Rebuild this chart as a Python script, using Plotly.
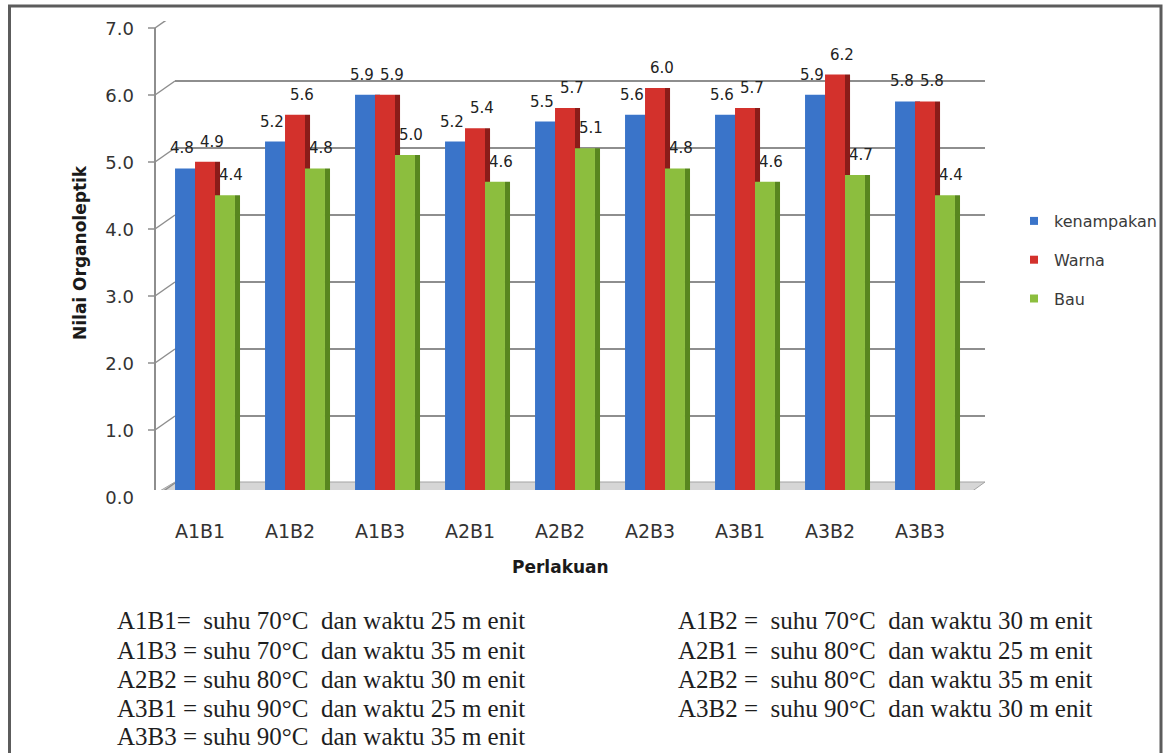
import plotly.graph_objects as go

# ---- data ----
categories = ["A1B1", "A1B2", "A1B3", "A2B1", "A2B2", "A2B3", "A3B1", "A3B2", "A3B3"]
kenampakan = [4.8, 5.2, 5.9, 5.2, 5.5, 5.6, 5.6, 5.9, 5.8]
warna = [4.9, 5.6, 5.9, 5.4, 5.7, 6.0, 5.7, 6.2, 5.8]
bau = [4.4, 4.8, 5.0, 4.6, 5.1, 4.8, 4.6, 4.7, 4.4]
series_names = ["kenampakan", "Warna", "Bau"]
y_ticks = [0, 1, 2, 3, 4, 5, 6, 7]

keterangan_kiri = [
    "A1B1=  suhu 70°C  dan waktu 25 m enit",
    "A1B3 = suhu 70°C  dan waktu 35 m enit",
    "A2B2 = suhu 80°C  dan waktu 30 m enit",
    "A3B1 = suhu 90°C  dan waktu 25 m enit",
    "A3B3 = suhu 90°C  dan waktu 35 m enit",
]
keterangan_kanan = [
    "A1B2 =  suhu 70°C  dan waktu 30 m enit",
    "A2B1 =  suhu 80°C  dan waktu 25 m enit",
    "A2B2 =  suhu 80°C  dan waktu 35 m enit",
    "A3B2 =  suhu 90°C  dan waktu 30 m enit",
]

# ---- page geometry (pixels) ----
W, H = 1166, 753
L, RX = 161, 971          # plot area left/right
T, BY = 21, 490           # plot area top/bottom
PW, PH = RX - L, BY - T


def px_x(px):
    return (px - L) / PW


def px_y(py):
    return (BY - py) / PH


front_cols = ["#3a74c9", "#d3312c", "#8cbe3e"]
side_cols = ["#23508f", "#8a1c19", "#58861f"]
face_w, side_w = 0.222, 0.056
offsets = [-0.344, -0.122, 0.100]
label_dx = [-3, 7, 6]
values = [kenampakan, warna, bau]

fig = go.Figure()

# 3D-looking columns: dark side strip, then the front face
for i, (name, vals) in enumerate(zip(series_names, values)):
    fig.add_trace(go.Bar(
        x=categories, y=vals, offset=offsets[i] + face_w, width=side_w,
        marker=dict(color=side_cols[i], line=dict(width=0)),
        showlegend=False, hoverinfo="skip"))
    fig.add_trace(go.Bar(
        x=categories, y=vals, offset=offsets[i], width=face_w,
        marker=dict(color=front_cols[i], line=dict(width=0)),
        name=name, showlegend=False))

# legend entries with small square swatches
for i, name in enumerate(series_names):
    fig.add_trace(go.Scatter(
        x=[None], y=[None], mode="markers", name=name, legendgroup=name,
        marker=dict(symbol="square", size=8, color=front_cols[i])))

# value labels
annotations = []
for i, vals in enumerate(values):
    center_px = (offsets[i] + face_w / 2) * PW / len(categories)
    for cat, v in zip(categories, vals):
        annotations.append(dict(
            x=cat, y=v, xref="x", yref="y", text=f"{v:.1f}", showarrow=False,
            yanchor="middle", yshift=20, xshift=center_px + label_dx[i],
            font=dict(family="DejaVu Sans", size=15, color="#222222")))

# axis titles
annotations.append(dict(
    x=px_x(80), y=px_y(253), xref="paper", yref="paper", text="<b>Nilai Organoleptik</b>",
    textangle=-90, showarrow=False, xanchor="center", yanchor="middle",
    font=dict(family="DejaVu Sans", size=17, color="#1a1a1a")))
annotations.append(dict(
    x=px_x(560), y=px_y(567), xref="paper", yref="paper", text="<b>Perlakuan</b>",
    showarrow=False, xanchor="center", yanchor="middle",
    font=dict(family="DejaVu Sans", size=17, color="#1a1a1a")))

# treatment key below the chart
row_y = [620, 650, 679, 708, 737]
for txt, ry in zip(keterangan_kiri, row_y):
    annotations.append(dict(
        x=px_x(115), y=px_y(ry), xref="paper", yref="paper", text=txt,
        showarrow=False, xanchor="left", yanchor="middle",
        font=dict(family="Liberation Serif", size=25, color="#1e1e1e")))
for txt, ry in zip(keterangan_kanan, row_y):
    annotations.append(dict(
        x=px_x(676), y=px_y(ry), xref="paper", yref="paper", text=txt,
        showarrow=False, xanchor="left", yanchor="middle",
        font=dict(family="Liberation Serif", size=25, color="#1e1e1e")))

# walls, floor and gridlines of the pseudo-3D frame (pixel offsets from the plot origin)
shapes = []
grid_col = "#8e8e8e"
shapes.append(dict(
    type="path", xref="paper", yref="y", xsizemode="pixel", ysizemode="pixel",
    xanchor=0, yanchor=0, path=f"M -8,-5 L {PW - 4},-5 L {PW + 14},8 L 14,8 Z",
    fillcolor="#d6d6d6", line=dict(color="#a3a3a3", width=1), layer="below"))
for v in y_ticks:
    if v > 0:
        shapes.append(dict(
            type="line", xref="paper", yref="y", xsizemode="pixel", ysizemode="pixel",
            xanchor=0, yanchor=v, x0=14, x1=PW + 14, y0=7, y1=7,
            line=dict(color=grid_col, width=2), layer="below"))
    shapes.append(dict(
        type="line", xref="paper", yref="y", xsizemode="pixel", ysizemode="pixel",
        xanchor=0, yanchor=v, x0=-6, x1=14, y0=-7, y1=7,
        line=dict(color=grid_col, width=1.5), layer="below"))
    shapes.append(dict(
        type="line", xref="paper", yref="y", xsizemode="pixel", ysizemode="pixel",
        xanchor=0, yanchor=v, x0=-13, x1=-6, y0=-7, y1=-7,
        line=dict(color=grid_col, width=1.5), layer="below"))
# vertical axis line
shapes.append(dict(
    type="line", xref="paper", yref="y", xsizemode="pixel", ysizemode="pixel",
    xanchor=0, yanchor=0, x0=-6, x1=-6, y0=-7, y1=PH - 7,
    line=dict(color=grid_col, width=2), layer="below"))
# outer frame
shapes.append(dict(
    type="rect", xref="paper", yref="paper",
    x0=px_x(9.5), x1=px_x(1161), y0=px_y(6), y1=px_y(770),
    line=dict(color="#5c5c5c", width=3), fillcolor="rgba(0,0,0,0)", layer="above"))

fig.update_layout(
    width=W, height=H,
    margin=dict(l=L, r=W - RX, t=T, b=H - BY, autoexpand=False),
    paper_bgcolor="white", plot_bgcolor="rgba(0,0,0,0)",
    barmode="overlay",
    showlegend=True,
    legend=dict(
        x=px_x(1014), y=px_y(204), xref="paper", yref="paper",
        xanchor="left", yanchor="top", tracegroupgap=15, itemwidth=30,
        font=dict(family="DejaVu Sans", size=16, color="#3a3a3a"),
        bgcolor="rgba(0,0,0,0)"),
    xaxis=dict(
        type="category", range=[-0.5, len(categories) - 0.5],
        showgrid=False, zeroline=False, showline=False, ticks="",
        ticklabelstandoff=28, ticklabelshift=-6,
        tickfont=dict(family="DejaVu Sans", size=19, color="#333333")),
    yaxis=dict(
        range=[0, 7], tickvals=y_ticks, tickformat=".1f",
        showgrid=False, zeroline=False, showline=False, ticks="",
        ticklabelstandoff=26, ticklabelshift=8,
        tickfont=dict(family="DejaVu Sans", size=18, color="#333333")),
    annotations=annotations,
    shapes=shapes,
)

fig.write_html("out.html")
